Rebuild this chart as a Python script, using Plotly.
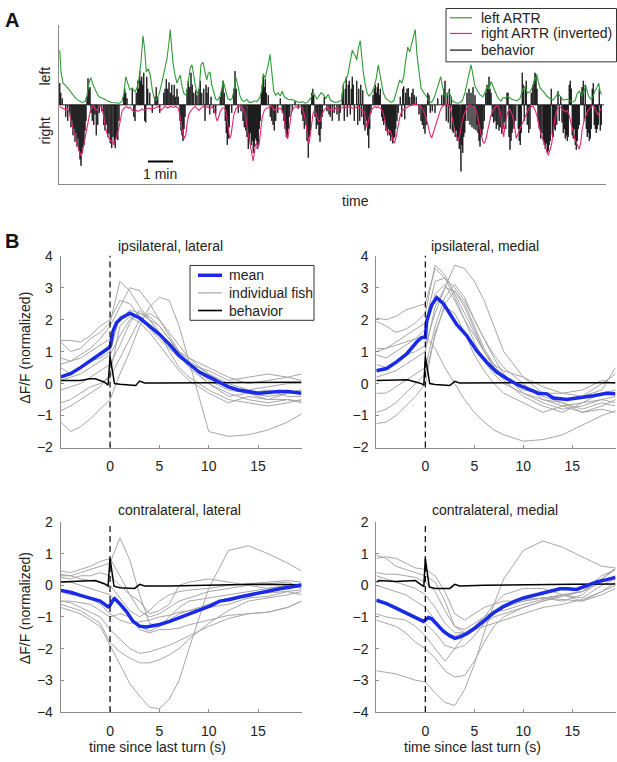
import plotly.graph_objects as go

W, H = 617, 762
FONT = "Liberation Sans, Arial, sans-serif"

# ---------------- Panel A data (time in minutes, activity in normalized units) ----------------
green_t = [0.03,0.08,0.16,0.27,0.40,0.53,0.67,0.80,0.93,1.04,1.12,1.20,1.27,1.35,1.44,1.55,1.65,1.77,1.88,2.00,
           2.13,2.27,2.40,2.51,2.59,2.67,2.75,2.83,2.93,3.04,3.12,3.20,3.28,3.36,3.43,3.49,3.57,3.65,3.73,3.81,
           3.89,4.00,4.11,4.21,4.32,4.40,4.45,4.51,4.57,4.64,4.72,4.79,4.85,4.92,5.00,5.09,5.17,5.25,5.32,5.39,
           5.47,5.55,5.61,5.68,5.76,5.84,5.91,5.97,6.04,6.11,6.19,6.27,6.35,6.44,6.51,6.56,6.61,6.68,6.75,6.84,
           6.93,7.01,7.07,7.15,7.23,7.31,7.41,7.51,7.60,7.71,7.81,7.92,8.03,8.11,8.17,8.24,8.31,8.37,8.44,8.51,
           8.59,8.67,8.77,8.85,8.93,9.01,9.11,9.20,9.31,9.41,9.52,9.63,9.73,9.84,9.97,10.08,10.16,10.24,10.32,10.40,
           10.48,10.57,10.67,10.77,10.85,10.96,11.07,11.20,11.31,11.39,11.47,11.55,11.63,11.68,11.73,11.79,11.84,11.91,11.97,12.05,
           12.11,12.17,12.24,12.32,12.40,12.51,12.61,12.69,12.77,12.84,12.91,12.97,13.07,13.17,13.28,13.39,13.47,13.55,13.63,13.71,
           13.79,13.87,13.95,14.03,14.11,14.17,14.25,14.32,14.40,14.48,14.59,14.69,14.80,14.91,15.01,15.12,15.20,15.27,15.33,15.41,
           15.49,15.57,15.65,15.73,15.84,15.95,16.04,16.13,16.24,16.32,16.40,16.48,16.56,16.64,16.75,16.85,16.96,17.04,17.12,17.20,
           17.28,17.36,17.44,17.52,17.60,17.68,17.76,17.84,17.92,18.00,18.11,18.21,18.32,18.44,18.55,18.64,18.73,18.84,18.95,19.04,
           19.11,19.17,19.24,19.37,19.51,19.64,19.77,19.88,19.96,20.04,20.17,20.31,20.41,20.51,20.64,20.73,20.81,20.91,21.00,21.08,
           21.17,21.27,21.35,21.43,21.51,21.59,21.64,21.71]
green_v = [0.68,0.41,0.27,0.24,0.19,0.13,0.08,0.05,0.03,0.04,0.12,0.27,0.34,0.26,0.19,0.12,0.09,0.08,0.06,0.04,
           0.03,0.02,0.02,0.04,0.13,0.35,0.27,0.19,0.21,0.16,0.21,0.33,0.54,0.86,0.68,0.41,0.45,0.37,0.19,0.08,
           0.06,0.13,0.27,0.41,0.58,0.78,0.94,0.70,0.50,0.37,0.27,0.33,0.37,0.23,0.14,0.12,0.27,0.46,0.50,0.34,
           0.21,0.13,0.21,0.50,0.53,0.41,0.31,0.39,0.41,0.25,0.15,0.07,0.06,0.11,0.19,0.30,0.25,0.17,0.08,0.06,
           0.08,0.21,0.35,0.25,0.12,0.06,0.04,0.07,0.03,0.03,0.05,0.04,0.09,0.17,0.39,0.33,0.41,0.50,0.63,0.41,
           0.17,0.12,0.15,0.11,0.17,0.10,0.08,0.06,0.07,0.05,0.04,0.03,0.04,0.02,0.04,0.09,0.15,0.12,0.07,0.12,
           0.15,0.13,0.08,0.13,0.06,0.04,0.03,0.04,0.06,0.27,0.31,0.37,0.50,0.58,0.68,0.64,0.62,0.56,0.70,0.80,
           0.58,0.41,0.27,0.15,0.11,0.15,0.23,0.33,0.50,0.37,0.21,0.15,0.08,0.06,0.03,0.05,0.14,0.23,0.31,0.27,
           0.35,0.56,0.72,0.66,0.76,0.82,0.94,0.62,0.37,0.21,0.15,0.11,0.05,0.03,0.09,0.19,0.27,0.35,0.25,0.13,
           0.09,0.16,0.13,0.05,0.03,0.02,0.03,0.05,0.15,0.27,0.41,0.50,0.37,0.23,0.17,0.12,0.10,0.15,0.23,0.19,
           0.29,0.23,0.15,0.11,0.07,0.05,0.09,0.08,0.11,0.09,0.07,0.06,0.05,0.08,0.19,0.23,0.15,0.16,0.23,0.31,
           0.38,0.29,0.21,0.17,0.11,0.08,0.06,0.11,0.15,0.11,0.06,0.07,0.06,0.03,0.05,0.14,0.17,0.11,0.17,0.23,
           0.12,0.07,0.09,0.17,0.21,0.27,0.17,0.13]

mag_t = [0.03,0.11,0.21,0.32,0.40,0.48,0.56,0.64,0.71,0.77,0.83,0.88,0.93,0.99,1.04,1.11,1.17,1.24,1.31,1.37,
         1.44,1.51,1.57,1.64,1.73,1.81,1.89,1.97,2.05,2.13,2.21,2.29,2.37,2.45,2.53,2.61,2.69,2.77,2.85,2.93,
         3.01,3.09,3.17,3.25,3.33,3.41,3.49,3.57,3.71,3.84,3.97,4.08,4.16,4.24,4.35,4.45,4.56,4.67,4.77,4.85,
         4.93,5.01,5.07,5.12,5.20,5.28,5.36,5.44,5.52,5.60,5.68,5.76,5.84,5.95,6.03,6.13,6.21,6.27,6.32,6.37,
         6.44,6.53,6.61,6.67,6.72,6.77,6.83,6.88,6.93,6.99,7.07,7.15,7.24,7.33,7.41,7.47,7.52,7.57,7.63,7.68,
         7.73,7.77,7.81,7.85,7.91,7.96,8.01,8.07,8.13,8.21,8.29,8.37,8.45,8.53,8.61,8.69,8.77,8.85,8.93,8.99,
         9.04,9.09,9.15,9.20,9.25,9.31,9.39,9.47,9.57,9.65,9.73,9.79,9.84,9.89,9.95,10.00,10.05,10.11,10.16,10.21,
         10.29,10.37,10.45,10.51,10.59,10.67,10.75,10.83,10.91,10.99,11.07,11.15,11.23,11.31,11.41,11.52,11.63,11.73,11.84,11.95,
         12.05,12.13,12.21,12.27,12.32,12.37,12.43,12.48,12.56,12.64,12.72,12.77,12.85,12.93,12.99,13.04,13.09,13.15,13.20,13.25,
         13.31,13.36,13.41,13.47,13.52,13.57,13.65,13.73,13.81,13.89,13.97,14.05,14.16,14.27,14.35,14.43,14.51,14.59,14.67,14.75,
         14.80,14.85,14.91,14.96,15.01,15.09,15.17,15.25,15.33,15.41,15.49,15.57,15.65,15.71,15.76,15.81,15.87,15.92,15.97,16.03,
         16.08,16.13,16.21,16.29,16.37,16.45,16.53,16.61,16.69,16.75,16.80,16.85,16.91,16.96,17.01,17.07,17.12,17.20,17.28,17.36,
         17.44,17.52,17.57,17.63,17.68,17.73,17.79,17.84,17.89,17.95,18.03,18.11,18.19,18.24,18.29,18.41,18.49,18.57,18.68,18.79,
         18.87,18.97,19.05,19.13,19.21,19.29,19.37,19.45,19.51,19.57,19.64,19.71,19.77,19.85,19.93,20.01,20.09,20.17,20.25,20.33,
         20.41,20.49,20.57,20.65,20.73,20.81,20.87,20.92,21.00,21.08,21.16,21.24,21.32,21.40,21.48,21.56,21.64,21.71]
mag_v = [-0.02,-0.04,-0.05,-0.04,-0.09,-0.20,-0.32,-0.40,-0.48,-0.54,-0.60,-0.64,-0.60,-0.52,-0.42,-0.30,-0.20,-0.09,-0.04,-0.01,
         -0.05,-0.07,-0.04,-0.01,-0.05,-0.20,-0.32,-0.40,-0.44,-0.46,-0.50,-0.40,-0.32,-0.20,-0.07,-0.04,-0.02,-0.04,-0.03,-0.07,
         -0.09,-0.07,-0.08,-0.07,-0.05,-0.07,-0.05,-0.04,-0.05,-0.04,-0.02,-0.07,-0.04,-0.02,-0.04,-0.02,-0.03,-0.02,-0.04,-0.15,
         -0.32,-0.42,-0.38,-0.24,-0.11,-0.07,-0.04,-0.02,-0.04,-0.07,-0.04,-0.02,-0.04,-0.02,-0.05,-0.02,-0.07,-0.13,-0.20,-0.17,
         -0.09,-0.04,-0.04,-0.07,-0.20,-0.34,-0.42,-0.38,-0.26,-0.13,-0.05,-0.02,-0.02,-0.04,-0.07,-0.15,-0.28,-0.38,-0.46,-0.56,
         -0.64,-0.70,-0.60,-0.51,-0.47,-0.54,-0.48,-0.32,-0.15,-0.07,-0.04,-0.04,-0.01,-0.03,-0.07,-0.04,-0.05,-0.04,-0.07,-0.13,
         -0.24,-0.36,-0.42,-0.32,-0.17,-0.08,-0.04,-0.02,-0.04,-0.02,-0.04,-0.09,-0.17,-0.28,-0.40,-0.48,-0.38,-0.20,-0.11,-0.07,
         -0.11,-0.20,-0.20,-0.13,-0.07,-0.04,-0.02,-0.07,-0.04,-0.08,-0.04,-0.08,-0.05,-0.04,-0.02,-0.04,-0.02,-0.04,-0.04,-0.02,
         -0.04,-0.07,-0.09,-0.20,-0.28,-0.22,-0.13,-0.07,-0.04,-0.02,-0.04,-0.02,-0.04,-0.07,-0.13,-0.22,-0.30,-0.36,-0.34,-0.32,
         -0.38,-0.45,-0.48,-0.42,-0.34,-0.24,-0.13,-0.07,-0.05,-0.04,-0.02,-0.01,0.00,0.01,0.00,-0.01,-0.03,-0.08,-0.15,-0.24,
         -0.32,-0.38,-0.41,-0.36,-0.30,-0.22,-0.13,-0.07,-0.02,0.00,0.01,0.00,-0.04,-0.13,-0.22,-0.30,-0.36,-0.42,-0.45,-0.38,
         -0.28,-0.20,-0.11,-0.05,-0.01,0.00,-0.02,-0.05,-0.07,-0.15,-0.26,-0.32,-0.40,-0.46,-0.48,-0.44,-0.36,-0.24,-0.13,-0.07,
         -0.02,-0.01,-0.02,-0.07,-0.15,-0.30,-0.40,-0.24,-0.15,-0.09,-0.05,-0.11,-0.20,-0.32,-0.42,-0.32,-0.26,-0.20,-0.13,-0.05,
         -0.02,-0.02,-0.07,-0.15,-0.28,-0.38,-0.44,-0.52,-0.58,-0.63,-0.56,-0.48,-0.32,-0.15,-0.05,-0.02,-0.04,-0.07,-0.09,-0.07,
         -0.13,-0.24,-0.36,-0.44,-0.50,-0.55,-0.48,-0.32,-0.20,-0.13,-0.07,-0.04,-0.01,-0.02,-0.07,-0.13,-0.07,-0.04]

beh_t = [0.03,0.07,0.13,0.27,0.35,0.43,0.48,0.52,0.56,0.60,0.64,0.68,0.72,0.76,0.80,0.84,0.88,0.92,0.96,1.00,
         1.04,1.08,1.12,1.16,1.20,1.24,1.28,1.33,1.39,1.44,1.49,1.55,1.61,1.71,1.79,1.84,1.89,1.95,2.00,2.05,
         2.11,2.16,2.21,2.25,2.29,2.35,2.40,2.59,2.63,2.67,2.72,2.93,2.99,3.04,3.09,3.15,3.19,3.23,3.27,3.31,
         3.35,3.39,3.43,3.47,3.51,3.55,3.63,3.73,3.84,3.89,3.95,4.03,4.19,4.24,4.29,4.35,4.40,4.45,4.51,4.56,
         4.61,4.67,4.72,4.77,4.84,4.88,4.92,4.96,5.00,5.04,5.12,5.17,5.23,5.28,5.33,5.39,5.47,5.52,5.60,5.65,
         5.71,5.79,5.84,5.88,5.92,5.97,6.03,6.08,6.19,6.27,6.45,6.51,6.56,6.61,6.65,6.69,6.73,6.77,6.81,6.91,
         6.99,7.04,7.09,7.17,7.28,7.36,7.41,7.47,7.52,7.57,7.61,7.65,7.69,7.73,7.77,7.81,7.85,7.89,7.93,7.97,
         8.01,8.05,8.09,8.13,8.17,8.21,8.25,8.29,8.37,8.45,8.51,8.56,8.61,8.67,8.75,8.85,8.93,8.99,9.04,9.09,
         9.13,9.17,9.23,9.33,9.44,9.57,9.71,9.76,9.81,9.87,9.92,9.97,10.01,10.05,10.11,10.15,10.19,10.24,10.29,10.35,
         10.40,10.44,10.48,10.53,10.61,10.72,10.80,10.85,10.93,11.01,11.12,11.20,11.25,11.33,11.37,11.41,11.45,11.49,11.53,11.57,
         11.61,11.65,11.69,11.73,11.77,11.81,11.91,11.95,11.99,12.03,12.07,12.11,12.15,12.19,12.24,12.29,12.35,12.39,12.43,12.48,
         12.56,12.61,12.65,12.69,12.73,12.77,12.81,12.85,12.91,12.95,12.99,13.03,13.07,13.11,13.15,13.19,13.23,13.27,13.31,13.35,
         13.39,13.43,13.47,13.52,13.57,13.65,13.71,13.75,13.79,13.83,13.87,13.92,13.97,14.03,14.11,14.16,14.21,14.29,14.40,14.48,
         14.53,14.59,14.64,14.69,14.75,14.80,14.85,14.93,15.04,15.15,15.31,15.39,15.44,15.49,15.53,15.57,15.61,15.65,15.69,15.73,
         15.77,15.81,15.85,15.89,15.93,15.97,16.01,16.05,16.08,16.11,16.15,16.19,16.23,16.27,16.32,16.36,16.40,16.44,16.48,16.52,
         16.56,16.60,16.64,16.68,16.72,16.76,16.80,16.84,16.88,16.92,16.96,17.01,17.07,17.12,17.16,17.20,17.24,17.28,17.33,17.39,
         17.44,17.49,17.55,17.60,17.65,17.71,17.76,17.81,17.87,17.92,17.96,18.00,18.04,18.08,18.12,18.16,18.21,18.27,18.37,18.41,
         18.45,18.49,18.53,18.57,18.61,18.65,18.69,18.73,18.79,18.84,18.89,18.95,19.00,19.04,19.08,19.12,19.16,19.21,19.27,19.32,
         19.37,19.41,19.45,19.49,19.53,19.57,19.61,19.65,19.69,19.73,19.77,19.81,19.85,19.91,19.96,20.01,20.07,20.12,20.17,20.21,
         20.25,20.29,20.33,20.37,20.41,20.45,20.49,20.53,20.57,20.61,20.65,20.69,20.73,20.77,20.81,20.87,20.92,20.97,21.01,21.05,
         21.09,21.13,21.17,21.21,21.25,21.29,21.33,21.37,21.41,21.45,21.49,21.53,21.57,21.61,21.65,21.69]
beh_v = [0.27,0.15,0.08,-0.15,-0.20,-0.10,-0.28,-0.20,-0.38,-0.30,-0.46,-0.35,-0.52,-0.42,-0.58,-0.68,-0.76,-0.60,-0.52,-0.50,
         -0.32,-0.20,0.10,0.33,0.20,0.22,-0.10,-0.20,-0.25,-0.12,-0.38,-0.25,-0.10,-0.08,-0.25,-0.32,-0.25,-0.40,-0.36,-0.48,
         -0.54,-0.40,-0.50,-0.54,-0.42,-0.44,-0.20,0.10,0.20,0.15,0.08,0.20,-0.15,-0.20,0.15,0.30,0.20,0.42,0.30,0.35,
         0.25,0.40,-0.20,-0.22,0.35,0.20,0.15,-0.10,0.10,0.22,0.10,-0.10,0.15,0.20,0.32,0.20,0.28,0.15,0.25,0.12,
         0.25,0.10,0.20,0.10,-0.20,-0.32,-0.38,-0.45,-0.30,-0.15,0.20,0.30,0.22,0.40,0.25,0.15,0.18,0.12,0.20,0.30,
         0.15,0.20,-0.20,0.25,0.15,0.22,-0.12,0.10,-0.10,-0.12,0.10,0.20,0.30,0.15,-0.20,-0.35,-0.50,-0.42,-0.28,-0.10,
         0.20,0.42,0.20,-0.10,-0.08,-0.20,-0.28,-0.32,-0.40,-0.55,-0.45,-0.35,-0.50,-0.45,-0.60,-0.52,-0.42,-0.45,-0.55,-0.50,
         -0.30,-0.20,0.15,0.25,0.35,0.22,0.32,0.15,0.12,-0.15,-0.20,-0.25,-0.32,-0.20,-0.10,0.08,-0.10,-0.20,-0.30,-0.40,
         -0.42,-0.30,-0.15,-0.08,0.05,-0.05,-0.12,-0.20,-0.30,-0.25,-0.45,-0.66,-0.40,-0.32,0.15,0.20,0.12,-0.15,-0.30,-0.25,
         -0.38,-0.46,-0.30,-0.15,0.10,-0.08,-0.12,-0.15,-0.20,-0.10,-0.12,-0.20,-0.10,0.15,0.25,-0.20,0.20,0.35,-0.15,0.25,
         0.30,-0.12,0.20,0.35,0.25,-0.20,0.30,-0.25,0.20,-0.20,0.25,-0.15,0.18,-0.25,-0.32,-0.20,-0.38,-0.54,-0.30,-0.10,
         0.12,0.20,0.25,0.15,0.22,0.27,0.12,0.20,-0.15,-0.20,-0.25,-0.18,-0.32,-0.28,-0.38,-0.30,-0.38,-0.45,-0.40,-0.48,
         -0.42,-0.40,-0.30,-0.20,-0.10,0.10,-0.15,0.20,0.23,-0.18,0.15,0.20,0.21,0.10,0.15,0.20,0.12,0.10,-0.12,-0.20,
         -0.25,-0.30,-0.36,-0.25,0.15,0.12,-0.10,-0.08,-0.10,0.08,0.12,0.20,0.30,-0.20,0.15,-0.22,0.20,-0.30,0.10,-0.32,
         -0.35,-0.28,-0.40,-0.32,-0.45,-0.42,-0.55,-0.62,-0.83,-0.50,-0.60,-0.40,-0.35,-0.20,0.15,-0.20,0.20,-0.25,0.15,-0.28,
         0.22,-0.30,0.12,-0.32,-0.25,-0.35,-0.45,-0.52,-0.40,-0.38,-0.30,-0.20,0.15,0.25,0.20,0.35,0.20,0.15,-0.15,-0.22,
         -0.20,-0.30,-0.25,-0.32,-0.28,-0.36,-0.30,-0.22,-0.30,0.15,0.15,-0.40,-0.56,-0.45,-0.35,-0.30,-0.25,-0.20,-0.30,-0.45,
         -0.50,-0.35,0.40,0.25,-0.20,0.22,0.30,-0.25,-0.35,-0.30,0.15,0.25,0.30,0.40,0.38,0.20,-0.20,-0.30,-0.42,-0.35,
         -0.45,-0.50,-0.55,-0.48,-0.60,-0.58,-0.50,-0.45,0.20,-0.38,-0.40,-0.30,-0.32,-0.25,0.17,-0.20,0.10,-0.22,-0.35,-0.30,
         -0.42,-0.38,-0.45,-0.40,0.25,0.30,0.20,-0.38,-0.42,-0.30,-0.50,-0.56,-0.45,-0.30,-0.25,0.15,0.22,0.30,-0.20,0.25,
         -0.30,-0.40,-0.35,-0.45,-0.42,-0.30,0.20,0.27,-0.25,-0.30,-0.35,-0.30,-0.25,0.20,-0.32,-0.25]

legend_a_labels = ["left ARTR", "right ARTR (inverted)", "behavior"]
legend_b_labels = ["mean", "individual fish", "behavior"]

# ---------------- Panel B data (time since last turn in s, dF/F normalized) ----------------
fish_t = [-5, -4, -3, -2, -1, 0, 1, 2, 3, 4, 5, 6, 7, 8, 10, 12, 14, 16, 18, 19.4]

ipsi_lat_fish = [
    [1.35,1.35,1.3,1.5,1.8,2.0,2.6,2.5,2.1,1.7,1.4,1.1,0.8,0.6,0.4,0.1,0.2,0.3,0.2,0.3],
    [1.3,1.0,1.1,1.4,1.6,1.9,3.2,2.9,2.4,2.0,1.6,1.2,0.9,0.6,0.1,-0.2,-0.3,-0.2,-0.4,-0.4],
    [0.8,0.7,0.9,1.1,1.4,1.8,2.4,3.0,2.9,2.5,2.0,1.5,1.0,0.6,0.0,-0.3,-0.5,-0.6,-0.5,-0.55],
    [0.6,0.7,0.8,1.0,1.2,1.4,2.0,2.3,2.2,2.0,1.8,1.4,1.0,0.7,0.3,0.0,-0.2,-0.1,0.0,0.0],
    [0.5,0.3,0.5,0.7,0.8,1.0,2.1,2.2,2.0,1.8,1.5,1.2,1.0,0.8,0.5,0.2,0.0,0.1,0.2,0.1],
    [0.1,0.2,0.3,0.5,0.7,0.9,1.5,2.0,2.2,2.1,1.8,1.4,0.9,0.5,0.0,-0.4,-0.3,-0.5,-0.3,-0.2],
    [-0.2,-0.1,0.0,0.2,0.4,0.6,1.2,1.9,2.3,2.0,1.6,1.0,0.5,0.2,-0.2,-0.5,-0.6,-0.7,-0.6,-0.5],
    [-0.6,-0.5,-0.3,-0.1,0.0,0.2,0.8,1.4,2.0,2.2,2.0,1.6,1.2,0.8,0.3,-0.1,-0.3,-0.4,-0.3,-0.2],
    [-1.2,-1.5,-1.35,-1.1,-0.8,-0.5,0.3,1.0,1.8,2.4,2.7,2.6,1.8,0.7,-1.5,-1.65,-1.6,-1.45,-1.2,-0.95],
    [-0.85,-0.7,-0.5,-0.3,-0.1,0.3,1.8,2.1,1.9,1.6,1.2,0.8,0.4,0.1,-0.3,-0.6,-0.4,-0.5,-0.5,-0.6],
]
ipsi_med_fish = [
    [2.05,2.0,2.1,2.3,2.4,2.5,3.6,3.3,2.7,2.0,1.3,0.7,0.3,0.0,-0.3,-0.5,-0.7,-0.6,-0.3,-0.2],
    [1.95,1.8,1.6,1.7,1.9,2.2,3.7,3.4,2.8,2.2,1.6,1.0,0.5,0.2,-0.1,-0.4,-0.6,-0.9,-0.7,-0.5],
    [1.1,1.1,1.3,1.5,1.7,1.9,3.2,3.3,3.0,2.6,2.0,1.4,0.8,0.3,-0.3,-0.6,-0.8,-0.7,-0.5,-0.6],
    [0.9,0.8,1.0,1.2,1.4,1.7,2.8,3.1,2.6,2.0,1.5,1.0,0.6,0.4,0.2,-0.1,-0.3,-0.2,0.1,0.0],
    [1.0,1.1,1.2,1.3,1.4,1.5,1.1,0.5,0.0,-0.5,-0.9,-1.2,-1.45,-1.6,-1.8,-1.75,-1.6,-1.3,-1.0,-0.85],
    [0.6,0.5,0.7,0.9,1.0,1.2,2.2,3.0,3.7,3.6,3.2,2.6,1.8,1.0,0.2,-0.3,-0.5,-0.4,0.0,0.3],
    [0.2,0.3,0.4,0.6,0.8,1.0,2.4,3.0,2.9,2.5,1.8,1.1,0.6,0.2,-0.2,-0.3,-0.3,-0.4,-0.2,0.5],
    [-0.3,-0.3,-0.1,0.1,0.3,0.5,1.8,2.7,3.1,2.7,2.0,1.4,0.9,0.5,0.0,-0.5,-0.6,-0.8,-0.6,-0.7],
    [-0.9,-0.8,-0.6,-0.3,0.0,0.3,1.5,2.5,2.9,2.4,1.7,1.0,0.5,0.1,-0.4,-0.7,-0.9,-0.6,-0.5,-0.4],
    [-1.25,-1.2,-1.0,-0.7,-0.4,0.0,1.6,2.4,2.2,1.6,0.9,0.4,0.0,-0.3,-0.6,-0.9,-0.7,-0.9,-0.8,-0.9],
]
contra_lat_fish = [
    [-0.7,-0.8,-0.9,-1.1,-1.3,-1.9,-2.5,-3.1,-3.5,-3.85,-3.9,-3.6,-3.0,-2.0,-0.1,1.1,1.25,1.0,0.7,0.45],
    [-0.5,-0.55,-0.7,-0.85,-1.0,-1.4,-1.7,-2.0,-2.15,-2.1,-2.0,-1.9,-1.75,-1.6,-1.3,-1.05,-0.9,-0.85,-0.7,-0.5],
    [-0.6,-0.7,-0.8,-1.0,-1.2,-1.8,-2.1,-2.3,-2.45,-2.45,-2.35,-2.2,-2.0,-1.7,-1.2,-0.8,-0.5,-0.4,-0.3,-0.2],
    [0.45,0.4,0.5,0.6,0.75,0.85,0.3,-0.3,-0.8,-1.0,-0.9,-0.7,-0.5,-0.4,-0.2,-0.1,0.0,-0.1,0.0,0.05],
    [0.3,0.3,0.4,0.5,0.6,0.7,1.5,0.8,-0.3,-1.2,-1.3,-1.0,-0.7,-0.5,-0.4,-0.3,-0.2,-0.1,0.0,-0.1],
    [0.25,0.2,0.3,0.3,0.4,0.3,0.0,-0.3,-0.5,-0.9,-0.8,-0.6,0.0,0.1,0.2,0.1,0.0,0.05,0.1,-0.1],
    [0.1,0.1,0.0,-0.1,-0.2,-0.3,-0.6,-1.0,-1.3,-1.45,-1.3,-1.1,-0.9,-0.8,-0.6,-0.4,-0.3,-0.25,-0.2,-0.15],
    [-0.2,-0.3,-0.3,-0.4,-0.6,-0.9,-1.1,-1.2,-1.15,-1.1,-1.0,-0.95,-0.85,-0.8,-0.7,-0.6,-0.4,-0.35,-0.2,-0.3],
    [-0.5,-0.5,-0.55,-0.6,-0.8,-1.0,-0.9,-1.0,-1.4,-1.5,-1.4,-1.4,-1.35,-1.25,-1.1,-0.95,-0.9,-0.85,-0.7,-0.5],
    [0.35,0.3,0.2,0.15,0.1,0.0,-0.4,-0.8,-1.0,-0.8,-0.5,-0.3,-0.2,-0.15,-0.1,0.0,0.05,0.1,0.15,0.1],
]
contra_med_fish = [
    [-2.7,-2.75,-2.8,-2.9,-3.0,-3.05,-3.4,-3.7,-3.8,-3.3,-2.5,-1.5,-0.6,0.2,1.1,1.4,1.2,0.9,0.6,0.55],
    [-1.1,-1.2,-1.3,-1.5,-1.8,-2.0,-2.3,-2.7,-2.9,-2.85,-2.4,-1.8,-1.3,-1.0,-0.7,-0.5,-0.3,-0.2,0.1,0.3],
    [0.95,0.85,0.6,0.5,0.4,0.3,0.1,-0.5,-1.3,-1.5,-1.4,-1.2,-1.0,-0.9,-0.7,-0.5,-0.35,-0.2,0.2,0.5],
    [0.85,0.9,0.85,0.7,0.55,0.5,0.3,-0.2,-0.9,-1.1,-0.9,-0.7,-0.6,-0.5,-0.5,-0.4,-0.3,-0.4,0.0,0.2],
    [0.4,0.35,0.35,0.3,0.25,0.1,-0.2,-0.8,-1.3,-1.4,-1.2,-1.0,-0.8,-0.8,-0.6,-0.45,-0.3,-0.2,0.3,0.5],
    [0.3,0.2,0.1,0.0,-0.1,-0.3,-0.7,-1.2,-1.5,-1.5,-1.3,-1.0,-0.6,-0.3,-0.1,-0.1,-0.3,-0.5,-0.2,0.1],
    [0.0,-0.1,-0.2,-0.3,-0.5,-0.7,-1.1,-1.5,-1.6,-1.5,-1.4,-1.3,-1.2,-1.1,-0.9,-0.7,-0.6,-0.45,-0.2,0.0],
    [-0.5,-0.6,-0.7,-0.85,-1.0,-1.2,-1.5,-1.9,-2.0,-1.9,-1.6,-1.2,-0.9,-0.7,-0.5,-0.4,-0.45,-0.5,-0.3,-0.1],
    [-0.9,-1.0,-1.05,-1.1,-1.3,-1.6,-2.0,-2.4,-2.0,-1.6,-1.3,-1.0,-0.8,-0.6,-0.45,-0.4,-0.5,-0.3,0.2,0.55],
]

ipsi_lat_mean_t = [-5,-4,-3,-2,-1,-0.1,0.05,0.3,0.65,1.15,2,3,4,5,6,7,8,9,10,11,12,13,14,15,16,17,18,19,19.4]
ipsi_lat_mean = [0.21,0.31,0.5,0.72,0.93,1.12,1.2,1.64,1.9,2.05,2.2,2.05,1.8,1.54,1.23,0.88,0.62,0.37,0.21,0.04,
                 -0.1,-0.2,-0.25,-0.3,-0.28,-0.25,-0.25,-0.28,-0.3]
ipsi_med_mean_t = [-5,-3.95,-2.93,-1.9,-0.88,-0.37,0,0.14,0.65,1.16,1.84,2.52,3.2,4.22,5.24,6.26,7.28,8.3,9.32,10.34,
                   11.02,11.53,12.38,13.06,14.42,15.78,17.14,18.5,19.4]
ipsi_med_mean = [0.4,0.47,0.68,0.93,1.3,1.44,1.44,1.95,2.46,2.69,2.5,2.16,1.85,1.5,1.03,0.67,0.36,0.16,-0.02,-0.15,
                 -0.25,-0.3,-0.32,-0.45,-0.5,-0.45,-0.38,-0.3,-0.32]
contra_lat_mean_t = [-5,-4,-3,-2,-1,-0.2,0,0.3,0.47,0.98,1.66,2.33,3.0,3.68,4.36,5.03,6.05,7.06,8.07,9.09,
                     10.1,11.11,12.13,13.14,14.16,15.17,16.18,17.2,18.21,19.4]
contra_lat_mean = [-0.16,-0.22,-0.32,-0.42,-0.5,-0.68,-0.63,-0.47,-0.42,-0.58,-0.83,-1.14,-1.29,-1.32,-1.29,-1.24,-1.14,-1.02,-0.91,-0.78,
                   -0.66,-0.5,-0.45,-0.37,-0.3,-0.24,-0.18,-0.11,-0.06,0.01]
contra_med_mean_t = [-5,-3.95,-2.93,-1.9,-0.88,-0.2,0,0.31,0.65,1.16,1.84,2.52,3.03,3.54,4.22,4.9,5.92,6.94,7.96,8.98,
                     10.0,11.02,12.38,13.74,14.42,15.44,16.46,17.48,18.5,19.4]
contra_med_mean = [-0.47,-0.58,-0.73,-0.88,-1.04,-1.14,-1.09,-1.02,-1.06,-1.24,-1.45,-1.6,-1.68,-1.63,-1.53,-1.39,-1.14,-0.88,-0.68,-0.52,
                   -0.4,-0.32,-0.23,-0.11,-0.11,-0.13,-0.01,0.11,0.18,0.25]

ipsi_lat_beh_t = [-5,-3,-2,-1.5,-0.6,-0.2,0,0.45,1,2,2.6,3.0,3.5,5,10,15,19.4]
ipsi_lat_beh = [0.1,0.1,0.15,0.15,0.05,-0.05,0.85,0.0,-0.02,-0.05,-0.06,0.08,0.02,0.02,0.03,0.04,0.04]
ipsi_med_beh_t = [-5,-3,-1.8,-1,-0.4,-0.15,0,0.45,1,2.5,3.0,3.5,6,10,15,19.4]
ipsi_med_beh = [0.1,0.12,0.12,0.05,0.0,-0.05,0.85,0.0,-0.03,-0.06,0.07,0.02,0.02,0.03,0.03,0.03]
contra_lat_beh_t = [-5,-3,-1.5,-0.6,-0.2,0,0.4,1,2.5,3.0,3.5,6,10,15,19.4]
contra_lat_beh = [0.1,0.12,0.15,0.05,-0.03,0.85,-0.03,-0.08,-0.1,0.03,-0.02,-0.02,0.0,0.03,0.02]
contra_med_beh_t = [-5,-4.7,-3,-1,-0.35,-0.15,0,0.4,1,2.5,3.0,3.5,6,10,15,19.4]
contra_med_beh = [0.1,0.15,0.12,0.15,0.0,-0.03,0.85,-0.05,-0.1,-0.1,0.03,-0.02,0.0,0.02,0.03,0.04]

panel_titles = ["ipsilateral, lateral", "ipsilateral, medial", "contralateral, lateral", "contralateral, medial"]

# ---------------- figure ----------------
def px(x, y):
    return x / W, 1 - y / H

GREEN, MAGENTA, BLUE, GRAY = "#2f9a35", "#e3266f", "#1a2be8", "#a6a6a6"
AXC = "#8c8c8c"

fig = go.Figure()

# behavior spikes for panel A (vertical strokes from the zero baseline)
bx, by = [0], [0]
for t, v in zip(beh_t, beh_v):
    bx += [t, t, t]
    by += [0, v, 0]
bx.append(21.8); by.append(0)
fig.add_trace(go.Scatter(x=bx, y=by, mode="lines", line=dict(color="#111111", width=0.9),
                         name="behavior", showlegend=False, xaxis="x", yaxis="y"))
fig.add_trace(go.Scatter(x=mag_t, y=mag_v, mode="lines", line=dict(color=MAGENTA, width=1.1),
                         name="right ARTR (inverted)", showlegend=False, xaxis="x", yaxis="y"))
fig.add_trace(go.Scatter(x=green_t, y=green_v, mode="lines", line=dict(color=GREEN, width=1.1),
                         name="left ARTR", showlegend=False, xaxis="x", yaxis="y"))

panels = [
    (ipsi_lat_fish, ipsi_lat_mean_t, ipsi_lat_mean, ipsi_lat_beh_t, ipsi_lat_beh),
    (ipsi_med_fish, ipsi_med_mean_t, ipsi_med_mean, ipsi_med_beh_t, ipsi_med_beh),
    (contra_lat_fish, contra_lat_mean_t, contra_lat_mean, contra_lat_beh_t, contra_lat_beh),
    (contra_med_fish, contra_med_mean_t, contra_med_mean, contra_med_beh_t, contra_med_beh),
]
for i, (fish, mt, mv, btt, bv) in enumerate(panels):
    xa, ya = "x%d" % (i + 2), "y%d" % (i + 2)
    for f in fish:
        fig.add_trace(go.Scatter(x=fish_t, y=f, mode="lines", line=dict(color=GRAY, width=1),
                                 name="individual fish", showlegend=False, xaxis=xa, yaxis=ya))
    fig.add_trace(go.Scatter(x=btt, y=bv, mode="lines", line=dict(color="black", width=1.5),
                             name="behavior", showlegend=False, xaxis=xa, yaxis=ya))
    fig.add_trace(go.Scatter(x=mt, y=mv, mode="lines", line=dict(color=BLUE, width=3.5),
                             name="mean", showlegend=False, xaxis=xa, yaxis=ya))

# axes geometry (pixel boxes)
xdomA = [59 / W, 606 / W]
ydomA = [1 - 180 / H, 1 - 17 / H]
xdomL = [60.7 / W, 301.5 / W]
xdomR = [376.3 / W, 615.5 / W]
ydomT = [1 - 449 / H, 1 - 253 / H]
ydomB = [1 - 719 / H, 1 - 525 / H]

tickfont = dict(family=FONT, size=14, color="#222")
common = dict(showgrid=False, zeroline=False, showline=True, linecolor=AXC, linewidth=1,
              tickfont=tickfont)

layout = dict(
    width=W, height=H, margin=dict(l=0, r=0, t=0, b=0), paper_bgcolor="white", plot_bgcolor="white",
    font=dict(family=FONT, size=14, color="#222"), showlegend=False,
    xaxis=dict(domain=xdomA, range=[0, 21.88], anchor="y", showticklabels=False, ticks="", **common),
    yaxis=dict(domain=ydomA, range=[-0.99, 1.0], anchor="x", showticklabels=False, ticks="", **common),
)
for i, (xd, yd, yr, yt) in enumerate([(xdomL, ydomT, [-2, 4], [-2, -1, 0, 1, 2, 3, 4]),
                                      (xdomR, ydomT, [-2, 4], [-2, -1, 0, 1, 2, 3, 4]),
                                      (xdomL, ydomB, [-4, 2], [-4, -3, -2, -1, 0, 1, 2]),
                                      (xdomR, ydomB, [-4, 2], [-4, -3, -2, -1, 0, 1, 2])]):
    n = i + 2
    layout["xaxis%d" % n] = dict(domain=xd, range=[-5, 19.4], anchor="y%d" % n, tickvals=[0, 5, 10, 15],
                                 ticks="inside", ticklen=3, tickcolor=AXC, ticklabelstandoff=6, **common)
    layout["yaxis%d" % n] = dict(domain=yd, range=yr, anchor="x%d" % n, tickvals=yt,
                                 ticks="inside", ticklen=3, tickcolor=AXC, ticklabelstandoff=4, **common)
fig.update_layout(**layout)

# dashed t=0 lines
for n in range(2, 6):
    fig.add_shape(type="line", xref="x%d" % n, yref="y%d domain" % n, x0=0, x1=0, y0=0, y1=1,
                  line=dict(color="black", width=1.2, dash="6px,4px"))

# scale bar (1 min)
fig.add_shape(type="line", xref="x", yref="y", x0=3.56, x1=4.56, y0=-0.707, y1=-0.707,
              line=dict(color="black", width=2))

def ann(text, x, y, size=14, angle=0, bold=False, anchor="center"):
    ax, ay = px(x, y)
    fig.add_annotation(text=("<b>%s</b>" % text) if bold else text, x=ax, y=ay, xref="paper", yref="paper",
                       showarrow=False, textangle=angle, xanchor=anchor, yanchor="middle",
                       font=dict(family=FONT, size=size, color="#111" if bold else "#222"))

def pbox(x0, y0, x1, y1):
    a0, b0 = px(x0, y0)
    a1, b1 = px(x1, y1)
    fig.add_shape(type="rect", xref="paper", yref="paper", x0=a0, y0=b0, x1=a1, y1=b1,
                  line=dict(color="#333", width=1), fillcolor="white", layer="above")

def pline(x0, x1, y, color, width):
    a0, b = px(x0, y)
    a1, _ = px(x1, y)
    fig.add_shape(type="line", xref="paper", yref="paper", x0=a0, y0=b, x1=a1, y1=b,
                  line=dict(color=color, width=width), layer="above")

# legend of panel A
pbox(446, 0.5, 616.5, 55)
for lab, yy, col, wd in zip(legend_a_labels, [10, 26, 43], [GREEN, MAGENTA, "#111"], [1.2, 1.2, 1.2]):
    pline(450, 472, yy, col, wd)
    ann(lab, 479, yy, anchor="left")

# legend of panel B
pbox(190, 263, 314, 319)
for lab, yy, col, wd in zip(legend_b_labels, [273, 291, 309], [BLUE, GRAY, "black"], [3.5, 1.2, 1.6]):
    pline(198, 222, yy, col, wd)
    ann(lab, 227, yy, anchor="left")

ann("A", 12, 12, size=20, bold=True)
ann("B", 12, 238, size=20, bold=True)
ann("left", 45, 69, angle=-90)
ann("right", 45, 125, angle=-90)
ann("time", 355, 197)
ann("1 min", 160, 170)
ann(panel_titles[0], 171, 243)
ann(panel_titles[1], 485, 243)
ann(panel_titles[2], 180, 513)
ann(panel_titles[3], 495, 513)
ann("ΔF/F (normalized)", 25, 347, angle=-90)
ann("ΔF/F (normalized)", 25, 613, angle=-90)
ann("time since last turn (s)", 157, 755)
ann("time since last turn (s)", 472, 755)

post = ("document.documentElement.style.margin='0';document.documentElement.style.padding='0';"
        "document.documentElement.style.overflow='hidden';"
        "document.body.style.margin='0';document.body.style.padding='0';document.body.style.overflow='hidden';"
        "var gd=document.getElementById('{plot_id}');gd.style.position='fixed';gd.style.left='0px';gd.style.top='0px';")
fig.write_html("out.html", config={"displayModeBar": False}, post_script=post)
